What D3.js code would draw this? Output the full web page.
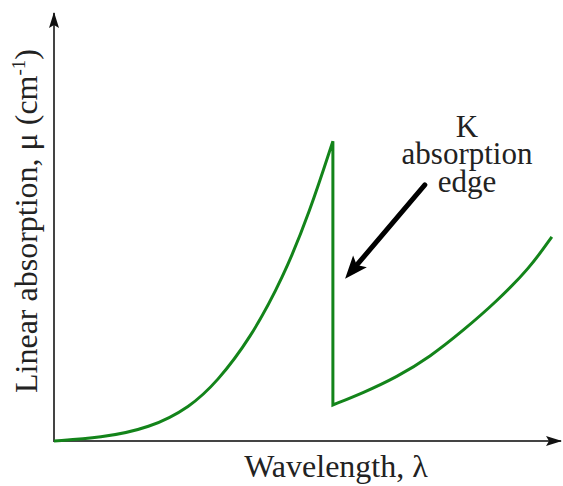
<!DOCTYPE html>
<html>
<head>
    <meta charset="utf-8" />
    <title>K absorption edge</title>
    <style>
        body { margin: 0; background: #fff; }
        text { font-family: "Liberation Serif", "Times New Roman", serif; fill: #222; }
    </style>
</head>
<body>
<script src="https://d3js.org/d3.v7.min.js"></script>
<script>
    // wavelength (arbitrary units) and linear absorption below / above the edge
    var lowWave  = [0, 0.91, 1.89, 2.68, 3.21, 3.86, 4.51, 5.04, 5.49];
    var lowMu    = [0, 0.07, 0.30, 0.79, 1.38, 2.38, 3.80, 5.36, 6.99];
    var highWave = [5.49, 6.08, 6.75, 7.40, 8.05, 8.72, 9.37, 9.80];
    var highMu   = [0.84, 1.12, 1.49, 1.96, 2.57, 3.26, 4.04, 4.76];
    var noteLines = ["K", "absorption", "edge"];

    var width = 563;
    var height = 486;
    var green = "#13841a";

    var svg = d3.select("body").append("svg")
                .attr("width", width)
                .attr("height", height)
                .attr("font-family", "'Liberation Serif', serif");

    var x = d3.scaleLinear().domain([0, 10]).range([54, 562]);
    var y = d3.scaleLinear().domain([0, 10]).range([441, 12]);

    var defs = svg.append("defs");
    defs.append("marker")
        .attr("id", "axisHead")
        .attr("viewBox", "0 -6 16 12")
        .attr("refX", 15)
        .attr("refY", 0)
        .attr("markerUnits", "userSpaceOnUse")
        .attr("markerWidth", 16)
        .attr("markerHeight", 12)
        .attr("orient", "auto")
        .append("path")
        .attr("d", "M0,-5L16,0L0,5L3,0Z")
        .attr("fill", "#111");

    // axes
    svg.append("line")
       .attr("x1", x(0)).attr("y1", y(0) + 1)
       .attr("x2", x(0)).attr("y2", y(10) + 1)
       .attr("stroke", "#444").attr("stroke-width", 2)
       .attr("marker-end", "url(#axisHead)");
    svg.append("line")
       .attr("x1", x(0) - 1).attr("y1", y(0))
       .attr("x2", x(10) - 1).attr("y2", y(0))
       .attr("stroke", "#444").attr("stroke-width", 2)
       .attr("marker-end", "url(#axisHead)");

    // absorption curve with the edge drop
    var line = d3.line()
                 .x(d => x(d[0]))
                 .y(d => y(d[1]))
                 .curve(d3.curveBasis);
    var lowPath = line(d3.zip(lowWave, lowMu));
    var highPath = line(d3.zip(highWave, highMu));

    svg.append("path")
       .attr("d", lowPath + highPath.replace(/^M/, "L"))
       .attr("fill", "none")
       .attr("stroke", green)
       .attr("stroke-width", 3)
       .attr("stroke-linejoin", "miter");

    // annotation arrow
    var tip = [x(5.73), y(3.78)];
    var tail = [x(7.30), y(5.97)];
    var ang = Math.atan2(tip[1] - tail[1], tip[0] - tail[0]);
    var headLen = 18, headW = 9;
    var bx = tip[0] - headLen * Math.cos(ang), by = tip[1] - headLen * Math.sin(ang);
    var nx = -Math.sin(ang), ny = Math.cos(ang);
    svg.append("line")
       .attr("x1", tail[0]).attr("y1", tail[1])
       .attr("x2", bx + 4 * Math.cos(ang)).attr("y2", by + 4 * Math.sin(ang))
       .attr("stroke", "#000").attr("stroke-width", 5)
       .attr("stroke-linecap", "round");
    var back = 5;
    svg.append("path")
       .attr("d", "M" + tip[0] + "," + tip[1] +
                  "L" + (bx - back * Math.cos(ang) + headW * nx) + "," + (by - back * Math.sin(ang) + headW * ny) +
                  "L" + bx + "," + by +
                  "L" + (bx - back * Math.cos(ang) - headW * nx) + "," + (by - back * Math.sin(ang) - headW * ny) + "Z")
       .attr("fill", "#000");

    svg.append("g").selectAll("text")
       .data(noteLines)
       .enter().append("text")
       .attr("x", x(8.13))
       .attr("y", (d, i) => y(7.09) + i * 27.5)
       .attr("text-anchor", "middle")
       .attr("font-size", 31)
       .text(d => d);

    // axis titles
    svg.append("text")
       .attr("x", 336)
       .attr("y", 477)
       .attr("text-anchor", "middle")
       .attr("font-size", 32)
       .text("Wavelength, \u03bb");

    var yt = svg.append("text")
       .attr("transform", "translate(37,221) rotate(-90)")
       .attr("text-anchor", "middle")
       .attr("font-size", 32);
    yt.append("tspan").text("Linear absorption, \u03bc (cm");
    yt.append("tspan").attr("font-size", 19).attr("dy", -12).text("-1");
    yt.append("tspan").attr("dy", 12).text(")");
</script>
</body>
</html>
